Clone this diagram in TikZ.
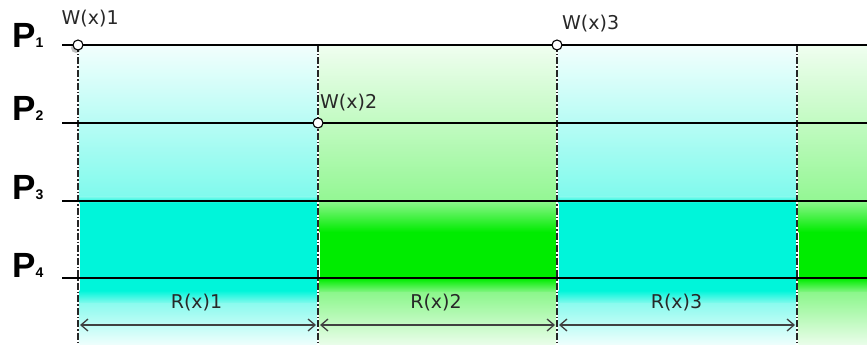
\documentclass[tikz,border=0pt]{standalone}
\usepackage{fontspec}
\setmainfont{DejaVu Sans}
\newfontfamily\pfont{Liberation Sans}
\usetikzlibrary{arrows.meta,shadows}
\definecolor{cyb}{RGB}{0,245,218}
\definecolor{grb}{RGB}{0,236,0}
\definecolor{txt}{RGB}{40,40,40}
\newcommand\cband[2]{%
  \shade[top color=cyb!5!white, bottom color=cyb!50!white] (#1,45) rectangle (#2,197);
  \shade[top color=cyb!50!white, bottom color=cyb] (#1,196.5) rectangle (#2,203);
  \fill[cyb] (#1,202.5) rectangle (#2,291);
  \shade[top color=cyb, bottom color=cyb!45!white] (#1,290.5) rectangle (#2,304);
  \shade[top color=cyb!45!white, bottom color=cyb!6!white] (#1,303.5) rectangle (#2,345);
}
\newcommand\gband[2]{%
  \shade[top color=grb!6!white, bottom color=grb!42!white] (#1,45) rectangle (#2,200);
  \shade[top color=grb!42!white, bottom color=grb] (#1,199.5) rectangle (#2,232);
  \fill[grb] (#1,231.5) rectangle (#2,279);
  \shade[top color=grb, bottom color=grb!45!white] (#1,278.5) rectangle (#2,293);
  \shade[top color=grb!45!white, bottom color=grb!8!white] (#1,292.5) rectangle (#2,345);
}
\tikzset{
  hline/.style={line width=1.2pt, black},
  vline/.style={line width=1.1pt, black!85, dash pattern=on 7pt off 2pt on 1.5pt off 2pt},
  wdot/.style={circle, draw=black, line width=1.1pt, fill=white, inner sep=0pt, minimum size=10pt},
  wlabel/.style={text=txt, font=\fontsize{19}{21}\selectfont, inner sep=0pt, anchor=base west},
  rlabel/.style={text=txt, font=\fontsize{19}{21}\selectfont, inner sep=0pt, anchor=base},
  plabel/.style={inner sep=0pt, anchor=base west, font=\pfont\bfseries\fontsize{35}{35}\selectfont},
  dimarrow/.style={line width=1.3pt, draw=black!75, {Straight Barb[length=7pt,width=12pt,line width=1.3pt]}-{Straight Barb[length=7pt,width=12pt,line width=1.3pt]}}
}
\newcommand\psub[1]{P{\fontsize{14}{14}\selectfont#1}}
\begin{document}
\begin{tikzpicture}[x=1pt,y=-1pt]
\useasboundingbox (0,0) rectangle (867,345);
% bands
\cband{79.5}{316.5}
\gband{319.5}{555.5}
\cband{558.5}{795.5}
\gband{798.5}{867}
% coordinates
\coordinate (h1a) at (62,45);  \coordinate (h1b) at (867,45);
\coordinate (h2a) at (62,123); \coordinate (h2b) at (867,123);
\coordinate (h3a) at (62,201); \coordinate (h3b) at (867,201);
\coordinate (h4a) at (62,278); \coordinate (h4b) at (867,278);
\coordinate (v1a) at (78,45);  \coordinate (v1b) at (78,345);
\coordinate (v2a) at (318,45); \coordinate (v2b) at (318,345);
\coordinate (v3a) at (557,45); \coordinate (v3b) at (557,345);
\coordinate (v4a) at (797,45); \coordinate (v4b) at (797,345);
% vertical dash-dot lines
\draw[vline] (v1a) -- (v1b);
\draw[vline] (v2a) -- (v2b);
\draw[vline] (v3a) -- (v3b);
\draw[vline] (v4a) -- (v4b);
% process lines
\draw[hline] (h1a) -- (h1b);
\draw[hline] (h2a) -- (h2b);
\draw[hline] (h3a) -- (h3b);
\draw[hline] (h4a) -- (h4b);
% process labels
\node[plabel] (p1) at (12,47.5) {\psub{1}};
\node[plabel] (p2) at (12,120.5) {\psub{2}};
\node[plabel] (p3) at (12,199) {\psub{3}};
\node[plabel] (p4) at (12,277) {\psub{4}};
% writes
\node[wdot, drop shadow={shadow xshift=-2pt, shadow yshift=-3pt, opacity=0.25, fill=black}] (w1) at (78,45) {};
\node[wdot] (w2) at (318,123) {};
\node[wdot] (w3) at (557,45) {};
\node[wlabel] (lw1) at (61.5,25) {W(x)1};
\node[wlabel] (lw2) at (320,108) {W(x)2};
\node[wlabel] (lw3) at (562,30) {W(x)3};
% reads
\coordinate (a1l) at (80,325);  \coordinate (a1r) at (316,325);
\coordinate (a2l) at (320,325); \coordinate (a2r) at (555,325);
\coordinate (a3l) at (559,325); \coordinate (a3r) at (795,325);
\draw[dimarrow] (a1l) -- (a1r);
\draw[dimarrow] (a2l) -- (a2r);
\draw[dimarrow] (a3l) -- (a3r);
\node[rlabel] (r1) at (196.5,308) {R(x)1};
\node[rlabel] (r2) at (436,308) {R(x)2};
\node[rlabel] (r3) at (676.5,308) {R(x)3};
\end{tikzpicture}
\end{document}
